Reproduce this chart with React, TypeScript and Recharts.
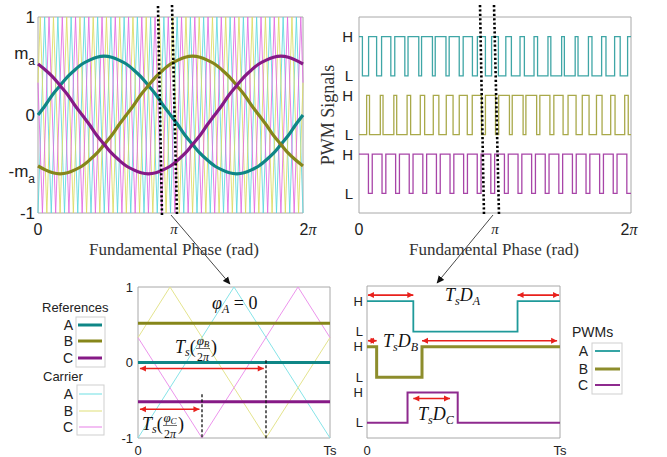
import React from 'react'
import { LineChart, Line, XAxis, YAxis, ReferenceLine, ReferenceArea } from 'recharts'

const SANS = '"Liberation Sans", Arial, sans-serif'
const SERIF = '"Liberation Serif", "Times New Roman", serif'
const INK = '#222'
const FRAME = '#a8a8a8'
const RED = '#e8201c'

// ---- top left: the three references over one fundamental period, read every 10 deg
const phaseDeg = [
	0, 10, 20, 30, 40, 50, 60, 70, 80, 90, 100, 110, 120, 130, 140, 150, 160, 170, 180,
	190, 200, 210, 220, 230, 240, 250, 260, 270, 280, 290, 300, 310, 320, 330, 340, 350, 360,
]
const refA = [
	0, 0.1, 0.21, 0.3, 0.39, 0.46, 0.52, 0.56, 0.59, 0.6, 0.59, 0.56, 0.52, 0.46, 0.39, 0.3, 0.21, 0.1, 0,
	-0.1, -0.21, -0.3, -0.39, -0.46, -0.52, -0.56, -0.59, -0.6, -0.59, -0.56, -0.52, -0.46, -0.39, -0.3, -0.21, -0.1, 0,
]
const refB = [
	-0.52, -0.56, -0.59, -0.6, -0.59, -0.56, -0.52, -0.46, -0.39, -0.3, -0.21, -0.1, 0, 0.1, 0.21, 0.3, 0.39, 0.46, 0.52,
	0.56, 0.59, 0.6, 0.59, 0.56, 0.52, 0.46, 0.39, 0.3, 0.21, 0.1, 0, -0.1, -0.21, -0.3, -0.39, -0.46, -0.52,
]
const refC = [
	0.52, 0.46, 0.39, 0.3, 0.21, 0.1, 0, -0.1, -0.21, -0.3, -0.39, -0.46, -0.52, -0.56, -0.59, -0.6, -0.59, -0.56, -0.52,
	-0.46, -0.39, -0.3, -0.21, -0.1, 0, 0.1, 0.21, 0.3, 0.39, 0.46, 0.52, 0.56, 0.59, 0.6, 0.59, 0.56, 0.52,
]
const refColors = ['#0f8686', '#86861a', '#861a86']

// carriers: 20 carrier periods per fundamental period (x axis is in carrier periods)
const carrierPeriods = 20
const carrierStart = [-1, 0.33, 0.33]
const carrierFirstX = [0.5, 1 / 6, 1 / 3]
const carrierFirstY = [1, 1, -1]
const carrierColors = ['#5cd8de', '#dcdc62', '#e26ae2']
const carrierLight = ['#86e4e8', '#e4e48e', '#ec94ec']

// ---- top right: H-time per carrier period for each phase
const dutyA = [0.5, 0.59, 0.68, 0.74, 0.79, 0.8, 0.79, 0.74, 0.68, 0.59, 0.5, 0.41, 0.32, 0.26, 0.21, 0.2, 0.21, 0.26, 0.32, 0.41, 0.5]
const dutyB = [0.21, 0.2, 0.21, 0.26, 0.32, 0.41, 0.5, 0.59, 0.68, 0.74, 0.79, 0.8, 0.79, 0.74, 0.68, 0.59, 0.5, 0.41, 0.32, 0.26]
const dutyC = [0.72, 0.72, 0.72, 0.72, 0.72, 0.72, 0.72, 0.72, 0.72, 0.72, 0.72, 0.72, 0.72, 0.72, 0.72, 0.72, 0.72, 0.72, 0.72, 0.72]
const pulseOffset = [0, 2 / 3, 1 / 3]
const pwmHigh = [9, 6, 3]
const pwmLow = [7, 4, 1]
const pwmColors = ['#3fa6a6', '#a9a94a', '#a845a8']
const pwmTicks = [1, 3, 4, 6, 7, 9]
const pwmTickText = ['L', 'H', 'L', 'H', 'L', 'H']

// ---- bottom: one carrier period Ts around phase = pi
const winRef = [0, 0.52, -0.52]
const winEdgesA = [0, 0.24, 0.78, 1]
const winLevelsA = ['H', 'L', 'H', 'H']
const winEdgesB = [0, 0.05, 0.285, 1]
const winLevelsB = ['H', 'L', 'H', 'H']
const winEdgesC = [0, 0.21, 0.47, 1]
const winLevelsC = ['L', 'H', 'L', 'L']
const winPwmColors = ['#1f9a9a', '#8d8d2c', '#8e2a8e']
const winPwmWidths = [1.8, 3, 2]

type Pt = { x: number; y: number }

function carrierPoints(i: number, end: number): Pt[] {
	const pts: Pt[] = [{ x: 0, y: carrierStart[i] }]
	let x = carrierFirstX[i]
	let y = carrierFirstY[i]
	while (x < end - 1e-9) {
		pts.push({ x, y })
		x += 0.5
		y = -y
	}
	pts.push({ x: end, y: carrierStart[i] })
	return pts
}

function pwmSteps(duty: number[], offset: number, hi: number, lo: number, end: number): Pt[] {
	const pulses = duty
		.map((d, k) => [k + offset - d / 2, k + offset + d / 2])
		.filter(([s, e]) => e > 0 && s < end)
	const startHigh = pulses.some(([s]) => s <= 0)
	const pts: Pt[] = [{ x: 0, y: startHigh ? hi : lo }]
	let level = startHigh ? hi : lo
	pulses.forEach(([s, e]) => {
		if (s > 0) pts.push({ x: s, y: hi })
		if (e < end) pts.push({ x: e, y: lo })
		level = e < end ? lo : hi
	})
	pts.push({ x: end, y: level })
	return pts
}

const windowSteps = (edges: number[], levels: string[], i: number): Pt[] =>
	edges.map((x, k) => ({ x, y: levels[k] === 'H' ? pwmHigh[i] : pwmLow[i] }))

const sines = [refA, refB, refC].map((r) => phaseDeg.map((d, k) => ({ x: d / 18, y: r[k] })))
const carriers = [0, 1, 2].map((i) => carrierPoints(i, carrierPeriods))
const pwms = [dutyA, dutyB, dutyC].map((d, i) => pwmSteps(d, pulseOffset[i], pwmHigh[i], pwmLow[i], carrierPeriods))
const winCarriers = [0, 1, 2].map((i) => carrierPoints(i, 1))
const winRefs = winRef.map((v) => [{ x: 0, y: v }, { x: 1, y: v }])
const winPwms = [
	windowSteps(winEdgesA, winLevelsA, 0),
	windowSteps(winEdgesB, winLevelsB, 1),
	windowSteps(winEdgesC, winLevelsC, 2),
]

function makePhaseTick(piDx: number, twoPiDx: number) {
	return function PhaseTick({ x, y, payload }: any) {
		const v = payload.value
		if (v === 10)
			return (
				<text x={x + piDx} y={y + 21} textAnchor="middle" fontFamily={SERIF} fontStyle="italic" fontSize={15} fill={INK}>
					π
				</text>
			)
		if (v === 20)
			return (
				<text x={x + twoPiDx} y={y + 22} textAnchor="middle" fontFamily={SANS} fontSize={16} fill={INK}>
					2<tspan fontFamily={SERIF} fontStyle="italic">π</tspan>
				</text>
			)
		return (
			<text x={x} y={y + 22} textAnchor="middle" fontFamily={SANS} fontSize={16} fill={INK}>
				0
			</text>
		)
	}
}

function RefYTick({ x, y, payload }: any) {
	const v = payload.value
	if (Math.abs(v) === 0.6)
		return (
			<text x={x} y={y + 3} textAnchor="end" fontFamily={SANS} fontSize={17} fill={INK}>
				{v < 0 ? '-' : ''}m<tspan dy={6} fontSize={12}>a</tspan>
			</text>
		)
	return (
		<text x={x} y={y + 6} textAnchor="end" fontFamily={SANS} fontSize={17} fill={INK}>
			{String(v)}
		</text>
	)
}

function makeLevelTick(size: number) {
	return function LevelTick({ x, y, payload }: any) {
		const k = pwmTicks.indexOf(payload.value)
		return (
			<text x={x} y={y + size * 0.36} textAnchor="end" fontFamily={SANS} fontSize={size} fill={INK}>
				{pwmTickText[k]}
			</text>
		)
	}
}

function WinYTick({ x, y, payload }: any) {
	return (
		<text x={x} y={y + 4.5} textAnchor="end" fontFamily={SANS} fontSize={13} fill={INK}>
			{String(payload.value)}
		</text>
	)
}

function WinXTick({ x, y, payload }: any) {
	return (
		<text x={x} y={y + 17} textAnchor="middle" fontFamily={SANS} fontSize={13} fill={INK}>
			{payload.value === 0 ? '0' : 'Ts'}
		</text>
	)
}

function RedArrow(p: any) {
	const x1 = Number(p.x1)
	const x2 = Number(p.x2)
	const y = Number(p.y1)
	return (
		<g>
			<line x1={x1} y1={y} x2={x2} y2={y} stroke={RED} strokeWidth={1.6} />
			<path d={`M${x1},${y} l6,-3 v6 z`} fill={RED} />
			<path d={`M${x2},${y} l-6,-3 v6 z`} fill={RED} />
		</g>
	)
}

function DashedMark(p: any) {
	return (
		<line x1={p.x1} y1={p.y1} x2={p.x2} y2={p.y2} stroke="#111" strokeWidth={1.3} strokeDasharray="3 2" />
	)
}

function TsFrac({ x, y, sub }: { x: number; y: number; sub: string }) {
	return (
		<g fontFamily={SERIF} fill="#111">
			<text x={x} y={y} fontSize={18} fontStyle="italic">
				T<tspan fontSize={12} dy={3}>s</tspan>
				<tspan fontStyle="normal" fontSize={18} dy={-3}>(</tspan>
			</text>
			<text x={x + 28} y={y - 8} fontSize={13} fontStyle="italic" textAnchor="middle">
				φ<tspan fontSize={9} dy={2}>{sub}</tspan>
			</text>
			<line x1={x + 21} x2={x + 35} y1={y - 4.5} y2={y - 4.5} stroke="#111" strokeWidth={0.6} />
			<text x={x + 28} y={y + 8} fontSize={12} textAnchor="middle">
				2<tspan fontStyle="italic">π</tspan>
			</text>
			<text x={x + 36} y={y} fontSize={18}>)</text>
		</g>
	)
}

function TsD({ x, y, sub }: { x: number; y: number; sub: string }) {
	return (
		<text x={x} y={y} fontFamily={SERIF} fontStyle="italic" fontSize={18} fill="#111">
			T<tspan fontSize={12} dy={4}>s</tspan>
			<tspan dy={-4}>D</tspan>
			<tspan fontSize={12} dy={4}>{sub}</tspan>
		</text>
	)
}

const legendLabel = (x: number, y: number, t: string, size = 14) => (
	<text x={x} y={y} textAnchor="end" fontFamily={SANS} fontSize={size} fill={INK}>
		{t}
	</text>
)

export default function App() {
	const abc = ['A', 'B', 'C']
	return (
		<div style={{ position: 'absolute', left: 0, top: 0, width: 667, height: 457, background: '#fff' }}>
			{/* top left: references and carriers */}
			<div style={{ position: 'absolute', left: 0, top: 0 }}>
				<LineChart width={320} height={260} margin={{ top: 17, right: 17, bottom: 17, left: 0 }}>
					<XAxis
						type="number"
						dataKey="x"
						domain={[0, 20]}
						ticks={[0, 10, 20]}
						interval={0}
						axisLine={false}
						tickLine={false}
						tickSize={0}
						tickMargin={0}
						height={30}
						tick={makePhaseTick(3.5, 5)}
					/>
					<YAxis
						type="number"
						domain={[-1, 1]}
						ticks={[-1, -0.6, 0, 0.6, 1]}
						interval={0}
						axisLine={false}
						tickLine={false}
						tickSize={0}
						tickMargin={3}
						width={38}
						tick={RefYTick}
					/>
					{carriers.map((d, i) => (
						<Line
							key={'c' + i}
							data={d}
							dataKey="y"
							type="linear"
							stroke={carrierColors[i]}
							strokeWidth={1}
							strokeOpacity={0.85}
							dot={false}
							isAnimationActive={false}
						/>
					))}
					{sines.map((d, i) => (
						<Line
							key={'r' + i}
							data={d}
							dataKey="y"
							type="monotone"
							stroke={refColors[i]}
							strokeWidth={3.2}
							dot={false}
							isAnimationActive={false}
						/>
					))}
					<ReferenceArea x1={0} x2={20} y1={-1} y2={1} fill="none" stroke={FRAME} ifOverflow="visible" />
				</LineChart>
			</div>

			{/* top right: PWM signals */}
			<div style={{ position: 'absolute', left: 320, top: 0 }}>
				<LineChart width={330} height={260} margin={{ top: 17, right: 19, bottom: 17, left: 0 }}>
					<XAxis
						type="number"
						dataKey="x"
						domain={[0, 20]}
						ticks={[0, 10, 20]}
						interval={0}
						axisLine={false}
						tickLine={false}
						tickSize={0}
						tickMargin={0}
						height={30}
						tick={makePhaseTick(0, -2)}
					/>
					<YAxis
						type="number"
						domain={[0, 10]}
						ticks={pwmTicks}
						interval={0}
						axisLine={false}
						tickLine={false}
						tickSize={0}
						tickMargin={6}
						width={39}
						tick={makeLevelTick(15)}
					/>
					{pwms.map((d, i) => (
						<Line
							key={'p' + i}
							data={d}
							dataKey="y"
							type="stepAfter"
							stroke={pwmColors[i]}
							strokeWidth={1.3}
							dot={false}
							isAnimationActive={false}
						/>
					))}
					<ReferenceArea x1={0} x2={20} y1={0} y2={10} fill="none" stroke={FRAME} ifOverflow="visible" />
				</LineChart>
			</div>

			{/* bottom left: one carrier period */}
			<div style={{ position: 'absolute', left: 100, top: 270 }}>
				<LineChart width={240} height={190} margin={{ top: 17, right: 10, bottom: 0, left: 0 }}>
					<XAxis
						type="number"
						dataKey="x"
						domain={[0, 1]}
						ticks={[0, 1]}
						interval={0}
						axisLine={false}
						tickLine={false}
						tickSize={0}
						tickMargin={0}
						height={22}
						tick={WinXTick}
					/>
					<YAxis
						type="number"
						domain={[-1, 1]}
						ticks={[-1, 0, 1]}
						interval={0}
						axisLine={false}
						tickLine={false}
						tickSize={0}
						tickMargin={5}
						width={38}
						tick={WinYTick}
					/>
					{winCarriers.map((d, i) => (
						<Line
							key={'wc' + i}
							data={d}
							dataKey="y"
							type="linear"
							stroke={carrierLight[i]}
							strokeWidth={1}
							dot={false}
							isAnimationActive={false}
						/>
					))}
					{winRefs.map((d, i) => (
						<Line
							key={'wr' + i}
							data={d}
							dataKey="y"
							type="linear"
							stroke={refColors[i]}
							strokeWidth={3}
							dot={false}
							isAnimationActive={false}
						/>
					))}
					<ReferenceArea x1={0} x2={1} y1={-1} y2={1} fill="none" stroke={FRAME} ifOverflow="visible" />
					<ReferenceLine segment={[{ x: 2 / 3, y: 0.03 }, { x: 2 / 3, y: -1.03 }]} ifOverflow="visible" shape={DashedMark} />
					<ReferenceLine segment={[{ x: 1 / 3, y: -0.42 }, { x: 1 / 3, y: -1 }]} ifOverflow="visible" shape={DashedMark} />
					<ReferenceLine segment={[{ x: 0.01, y: -0.08 }, { x: 0.655, y: -0.08 }]} ifOverflow="visible" shape={RedArrow} />
					<ReferenceLine segment={[{ x: 0.01, y: -0.62 }, { x: 0.32, y: -0.62 }]} ifOverflow="visible" shape={RedArrow} />
				</LineChart>
			</div>

			{/* bottom right: PWMs in one carrier period */}
			<div style={{ position: 'absolute', left: 330, top: 270 }}>
				<LineChart width={240} height={190} margin={{ top: 16, right: 10, bottom: 0, left: 0 }}>
					<XAxis
						type="number"
						dataKey="x"
						domain={[0, 1]}
						ticks={[0, 1]}
						interval={0}
						axisLine={false}
						tickLine={false}
						tickSize={0}
						tickMargin={0}
						height={22}
						tick={WinXTick}
					/>
					<YAxis
						type="number"
						domain={[0, 10]}
						ticks={pwmTicks}
						interval={0}
						axisLine={false}
						tickLine={false}
						tickSize={0}
						tickMargin={4}
						width={37}
						tick={makeLevelTick(13)}
					/>
					{winPwms.map((d, i) => (
						<Line
							key={'wp' + i}
							data={d}
							dataKey="y"
							type="stepAfter"
							stroke={winPwmColors[i]}
							strokeWidth={winPwmWidths[i]}
							dot={false}
							isAnimationActive={false}
						/>
					))}
					<ReferenceArea x1={0} x2={1} y1={0} y2={10} fill="none" stroke={FRAME} ifOverflow="visible" />
					<ReferenceLine segment={[{ x: 0.005, y: 9.4 }, { x: 0.24, y: 9.4 }]} ifOverflow="visible" shape={RedArrow} />
					<ReferenceLine segment={[{ x: 0.78, y: 9.4 }, { x: 0.995, y: 9.4 }]} ifOverflow="visible" shape={RedArrow} />
					<ReferenceLine segment={[{ x: 0.005, y: 6.4 }, { x: 0.05, y: 6.4 }]} ifOverflow="visible" shape={RedArrow} />
					<ReferenceLine segment={[{ x: 0.285, y: 6.4 }, { x: 0.985, y: 6.4 }]} ifOverflow="visible" shape={RedArrow} />
					<ReferenceLine segment={[{ x: 0.24, y: 2.6 }, { x: 0.43, y: 2.6 }]} ifOverflow="visible" shape={RedArrow} />
				</LineChart>
			</div>

			{/* titles, window markers, connectors, legends and math labels */}
			<svg width={667} height={457} style={{ position: 'absolute', left: 0, top: 0, pointerEvents: 'none' }}>
				<defs>
					<marker id="tip" markerWidth={8} markerHeight={8} refX={7} refY={4} orient="auto" markerUnits="userSpaceOnUse">
						<path d="M0,0.5 L7.5,4 L0,7.5 z" fill="#111" />
					</marker>
				</defs>

				<line x1={158} y1={6} x2={162} y2={216} stroke="#000" strokeWidth={2.6} strokeDasharray="2.2 2.2" />
				<line x1={172} y1={5} x2={177} y2={216} stroke="#000" strokeWidth={2.6} strokeDasharray="2.2 2.2" />
				<line x1={480} y1={5} x2={484} y2={215} stroke="#000" strokeWidth={2.6} strokeDasharray="2.2 2.2" />
				<line x1={494} y1={5} x2={499} y2={215} stroke="#000" strokeWidth={2.6} strokeDasharray="2.2 2.2" />

				<line x1={171} y1={215} x2={230} y2={284} stroke="#333" strokeWidth={0.9} markerEnd="url(#tip)" />
				<line x1={493} y1={215} x2={437} y2={283} stroke="#333" strokeWidth={0.9} markerEnd="url(#tip)" />

				<text x={174} y={255} textAnchor="middle" fontFamily={SERIF} fontSize={17} fill="#333">
					Fundamental Phase (rad)
				</text>
				<text x={494} y={255} textAnchor="middle" fontFamily={SERIF} fontSize={17} fill="#333">
					Fundamental Phase (rad)
				</text>
				<text transform="translate(334,115) rotate(-90)" textAnchor="middle" fontFamily={SERIF} fontSize={18} fill="#333">
					PWM Signals
				</text>

				{/* references / carrier legend */}
				<text x={42} y={312} fontFamily={SANS} fontSize={13} fill={INK}>
					References
				</text>
				<rect x={76} y={317} width={29} height={50} fill="none" stroke="#cfcfcf" />
				{[325, 341, 358].map((y, i) => (
					<g key={'lr' + i}>
						{legendLabel(73, y + 5, abc[i])}
						<line x1={78} x2={102} y1={y} y2={y} stroke={refColors[i]} strokeWidth={3} />
					</g>
				))}
				<text x={43} y={381} fontFamily={SANS} fontSize={13} fill={INK}>
					Carrier
				</text>
				<rect x={77} y={385} width={27} height={50} fill="none" stroke="#cfcfcf" />
				{[394, 411, 427].map((y, i) => (
					<g key={'lc' + i}>
						{legendLabel(73, y + 5, abc[i])}
						<line x1={79} x2={102} y1={y} y2={y} stroke={carrierLight[i]} strokeWidth={1.2} />
					</g>
				))}

				{/* PWMs legend */}
				<text x={572} y={337} fontFamily={SANS} fontSize={14} fill={INK}>
					PWMs
				</text>
				<rect x={592} y={343} width={30} height={51} fill="none" stroke="#cfcfcf" />
				{[351, 369, 385].map((y, i) => (
					<g key={'lp' + i}>
						{legendLabel(588, y + 5, abc[i])}
						<line x1={595} x2={620} y1={y} y2={y} stroke={winPwmColors[i]} strokeWidth={winPwmWidths[i]} />
					</g>
				))}

				{/* math annotations */}
				<text x={212} y={309} fontFamily={SERIF} fontStyle="italic" fontSize={18} fill="#111">
					φ<tspan fontSize={12} dy={4}>A</tspan>
					<tspan dy={-4} fontStyle="normal"> = 0</tspan>
				</text>
				<TsFrac x={175} y={353} sub="B" />
				<TsFrac x={142} y={430} sub="C" />
				<TsD x={445} y={301} sub="A" />
				<TsD x={383} y={347} sub="B" />
				<TsD x={418} y={420} sub="C" />
			</svg>
		</div>
	)
}
